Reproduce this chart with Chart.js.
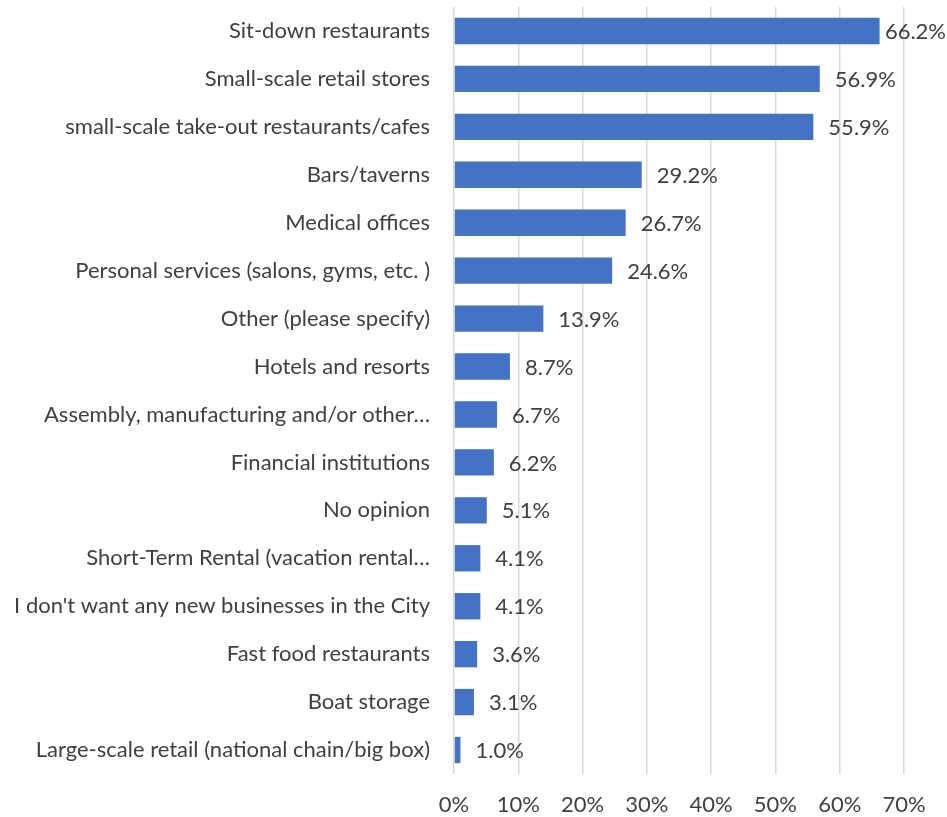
<!DOCTYPE html>
<html>
<head>
<meta charset="utf-8">
<script src="https://cdn.jsdelivr.net/npm/chart.js@4.4.1/dist/chart.umd.min.js"></script>
<style>
  html, body { margin: 0; padding: 0; background: #fff; }
  #wrap { position: relative; width: 947px; height: 817px; }
</style>
</head>
<body>
<div id="wrap"><canvas id="barChart"></canvas></div>
<script>
// data
var categories = [
    'Sit-down restaurants',
    'Small-scale retail stores',
    'small-scale take-out restaurants/cafes',
    'Bars/taverns',
    'Medical offices',
    'Personal services (salons, gyms, etc. )',
    'Other (please specify)',
    'Hotels and resorts',
    'Assembly, manufacturing and/or other\u2026',
    'Financial institutions',
    'No opinion',
    'Short-Term Rental (vacation rental\u2026',
    "I don't want any new businesses in the City",
    'Fast food restaurants',
    'Boat storage',
    'Large-scale retail (national chain/big box)'
];
var shares = [66.2, 56.9, 55.9, 29.2, 26.7, 24.6, 13.9, 8.7, 6.7, 6.2, 5.1, 4.1, 4.1, 3.6, 3.1, 1.0];
var xTicks = [0, 10, 20, 30, 40, 50, 60, 70];

var FONT = 'Lato, "Liberation Sans", sans-serif';
var FSIZE = 22;
var TXT = '#404040';
var BAR = '#4472C4';

// labels after each bar
var valueLabels = {
    id: 'valueLabels',
    afterDatasetsDraw: function (chart) {
        var ctx = chart.ctx;
        var meta = chart.getDatasetMeta(0);
        ctx.save();
        ctx.font = FSIZE + 'px ' + FONT;
        ctx.fillStyle = TXT;
        ctx.textBaseline = 'middle';
        ctx.textAlign = 'left';
        meta.data.forEach(function (bar, i) {
            var txt = shares[i].toFixed(1) + '%';
            var w = ctx.measureText(txt).width;
            var x = Math.min(bar.x + 15, chart.width - w - 1);
            ctx.fillText(txt, x, bar.y + 1);
        });
        ctx.restore();
    }
};

document.addEventListener('DOMContentLoaded', function () {
    var cv = document.getElementById('barChart');
    new Chart(cv, {
        type: 'bar',
        data: {
            labels: categories,
            datasets: [{
                data: shares,
                backgroundColor: BAR,
                borderWidth: 0,
                barPercentage: 0.55,
                categoryPercentage: 1.0
            }]
        },
        options: {
            indexAxis: 'y',
            responsive: true,
            maintainAspectRatio: false,
            animation: false,
            layout: { padding: { top: 7, right: 43, bottom: 0, left: 0 } },
            plugins: {
                legend: { display: false },
                tooltip: { enabled: false }
            },
            scales: {
                x: {
                    min: 0,
                    max: 70,
                    afterBuildTicks: function (axis) {
                        axis.ticks = xTicks.map(function (v) { return { value: v }; });
                    },
                    afterFit: function (axis) { axis.height = 43; },
                    grid: { color: '#d9d9d9', lineWidth: 1.5, drawTicks: false },
                    border: { display: false },
                    ticks: {
                        color: TXT,
                        font: { family: FONT, size: FSIZE },
                        padding: 18,
                        callback: function (v) { return v + '%'; }
                    }
                },
                y: {
                    grid: { display: false, drawTicks: false },
                    border: { display: false },
                    afterFit: function (axis) {
                        axis.width = 454;
                        axis.paddingTop = 0;
                        axis.paddingBottom = 0;
                    },
                    ticks: {
                        color: TXT,
                        font: { family: FONT, size: FSIZE },
                        padding: 24,
                        autoSkip: false
                    }
                }
            }
        },
        plugins: [valueLabels]
    });
});
</script>
</body>
</html>
